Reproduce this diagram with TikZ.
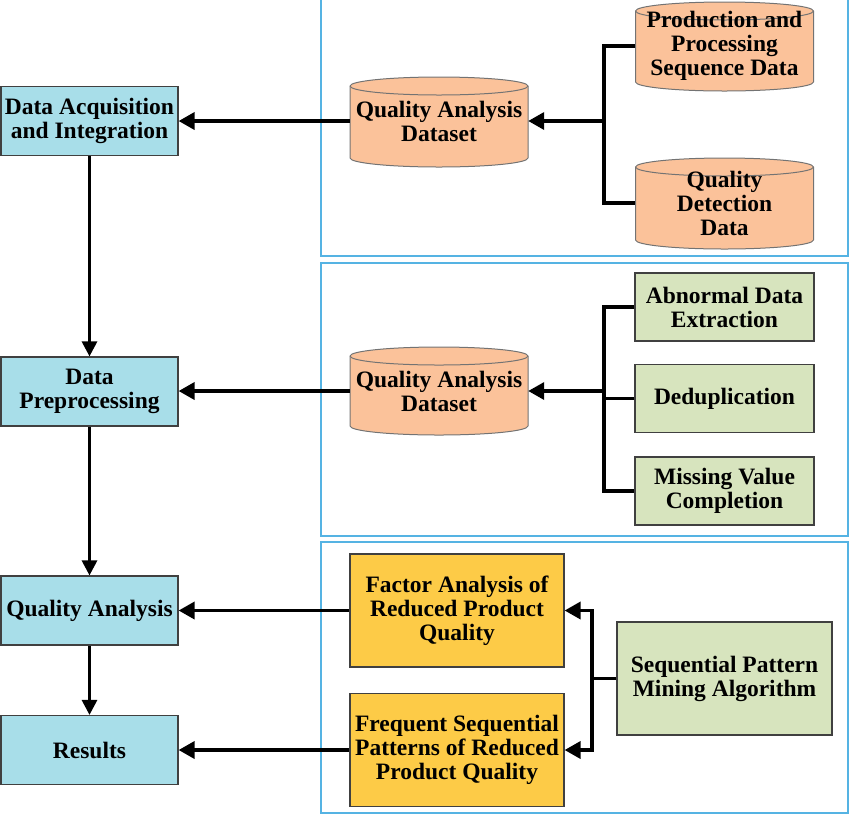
\documentclass[tikz,border=0pt]{standalone}
\usepackage{fontspec}
\setmainfont{Liberation Serif}
\usetikzlibrary{arrows.meta}
\definecolor{boxblue}{HTML}{A8DEE9}
\definecolor{cylor}{HTML}{FBC29A}
\definecolor{grn}{HTML}{D7E4BE}
\definecolor{ylw}{HTML}{FDCB47}
\definecolor{panelc}{HTML}{55B3E3}
\newcommand\drawcyl[3]{% cx, y top-ellipse centre, y bottom-ellipse centre
  \filldraw[fill=cylor,draw=black!55,line width=1pt]
    ({#1-89},#2) -- ({#1-89},#3) arc[start angle=180,end angle=0,x radius=89,y radius=9]
    -- ({#1+89},#2) arc[start angle=0,end angle=-180,x radius=89,y radius=9] -- cycle;
  \draw[draw=black!55,line width=1pt] ({#1-89},#2) arc[start angle=180,end angle=0,x radius=89,y radius=9];
}
\begin{document}
\begin{tikzpicture}[x=1pt,y=-1pt,
  every node/.style={font=\bfseries\fontsize{23.5}{24}\selectfont, align=center, inner sep=0pt},
  bluebox/.style={draw=black!75, line width=1.2pt, fill=boxblue, minimum width=177, minimum height=69},
  cyltext/.style={minimum width=178, minimum height=60},
  grnbox/.style={draw=black!75, line width=1.2pt, fill=grn, minimum width=179, minimum height=68},
  ylwbox/.style={draw=black!75, line width=1.2pt, fill=ylw, minimum width=214, minimum height=113},
  panel/.style={draw=panelc, line width=1.3pt},
  arr/.style={line width=3.5pt, -{Triangle[length=16pt,width=17pt]}},
  varr/.style={line width=3pt, -{Triangle[length=15pt,width=15pt]}},
  brk/.style={line width=3.5pt}
]
\useasboundingbox (0,0) rectangle (850,815);
% panels
\draw[panel] (321,-5) rectangle (848,256);
\draw[panel] (321,263) rectangle (848,536);
\draw[panel] (321,542) rectangle (848,813);

% left column
\node[bluebox] (b1) at (89.5,121) {Data Acquisition\\and Integration};
\node[bluebox] (b2) at (89.5,391.5) {Data\\Preprocessing};
\node[bluebox] (b3) at (89.5,610.5) {Quality Analysis};
\node[bluebox] (b4) at (89.5,750) {Results};

% panel 1
\drawcyl{439}{86}{158}
\node[cyltext] (q1) at (439,121) {Quality Analysis\\Dataset};
\drawcyl{724.5}{11}{82}
\node[cyltext] (p1) at (724.5,46) {Production and\\Processing\\Sequence Data};
\drawcyl{724.5}{167}{240}
\node[cyltext] (d1) at (724.5,203) {Quality\\Detection\\Data};
\coordinate (j1) at (604,121);
\draw[brk] (p1.west) -| (j1) |- (d1.west);
\draw[arr] (j1) -- (q1.east);
\draw[arr] (q1.west) -- (b1.east);

% panel 2
\drawcyl{439}{356}{426}
\node[cyltext] (q2) at (439,391) {Quality Analysis\\Dataset};
\node[grnbox] (g1) at (724.5,307) {Abnormal Data\\Extraction};
\node[grnbox] (g2) at (724.5,398.5) {Deduplication};
\node[grnbox] (g3) at (724.5,491) {Missing Value\\Completion};
\coordinate (j2) at (604,391);
\draw[brk] (g1.west) -| (j2) |- (g3.west);
\draw[brk] (g2.west) -- (g2.west -| j2);
\draw[arr] (j2) -- (q2.east);
\draw[arr] (q2.west) -- (q2.west -| b2.east);

% panel 3
\node[ylwbox] (y1) at (457,610.5) {Factor Analysis of\\Reduced Product\\Quality};
\node[ylwbox] (y2) at (457,750) {Frequent Sequential\\Patterns of Reduced\\Product Quality};
\node[grnbox, minimum width=215, minimum height=113] (s1) at (724.5,678.5) {Sequential Pattern\\Mining Algorithm};
\coordinate (j3) at (592,678.5);
\draw[brk] (s1.west) -- (j3);
\draw[arr] (j3) |- (y1.east);
\draw[arr] (j3) |- (y2.east);
\draw[arr] (y1.west) -- (b3.east);
\draw[arr] (y2.west) -- (b4.east);

% vertical flow
\draw[varr] (b1.south) -- (b2.north);
\draw[varr] (b2.south) -- (b3.north);
\draw[varr] (b3.south) -- (b4.north);
\end{tikzpicture}
\end{document}
